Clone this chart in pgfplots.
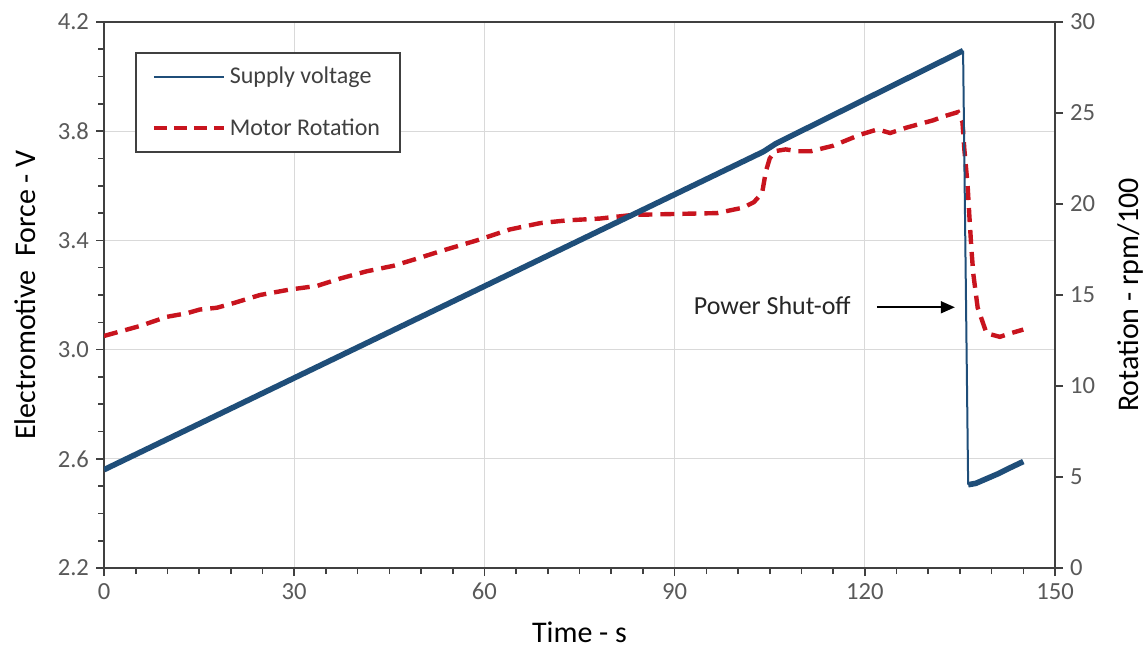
\documentclass[border=0pt]{standalone}
\usepackage{pgfplots}
\pgfplotsset{compat=1.18}
\usetikzlibrary{arrows.meta}
\usepackage{fontspec}
\setmainfont{Carlito}
\definecolor{volt}{HTML}{1F4E79}
\definecolor{rotc}{HTML}{C8141E}
\definecolor{axgray}{HTML}{404040}
\definecolor{tickgray}{HTML}{595959}
\definecolor{gridgray}{HTML}{D9D9D9}

\pgfplotsset{
  base/.style={
    scale only axis, width=475.5pt, height=273pt,
    xmin=0, xmax=150,
    /pgf/number format/assume math mode=true,
    tick label style={font=\fontsize{12.3}{14}\selectfont, text=tickgray},
    label style={font=\fontsize{15}{18}\selectfont, text=black},
    axis line style={axgray, line width=0.8pt},
    every tick/.style={axgray, line width=0.8pt},
    tick align=outside,
    major tick length=4pt, minor tick length=3pt,
  }
}

\begin{document}
\begin{tikzpicture}
% frame, grid, left axis and x axis
\begin{axis}[base,
  ymin=2.2, ymax=4.2,
  ytick={2.2,2.6,3.0,3.4,3.8,4.2}, minor y tick num=3,
  xtick={0,30,60,90,120,150}, minor x tick num=5,
  xtick pos=left, ytick pos=left,
  grid=major, major grid style={gridgray, line width=0.6pt},
  yticklabel style={/pgf/number format/.cd, fixed, fixed zerofill, precision=1},
  xlabel={Time - s}, ylabel={Electromotive\ \ Force - V},
  xlabel style={at={(axis description cs:0.5,-0.117)}, anchor=center},
  ylabel style={at={(axis description cs:-0.083,0.5)}, anchor=center},
]
\addplot[draw=none, forget plot] coordinates {(0,2.2) (150,4.2)};
\end{axis}

% right axis: motor rotation
\begin{axis}[base,
  ymin=0, ymax=30, ytick={0,5,10,15,20,25,30},
  axis y line*=right, axis x line=none,
  ylabel={Rotation - rpm/100},
  ylabel style={at={(axis description cs:1.079,0.5)}, anchor=center},
]
\addplot[rotc, line width=2.2pt, dash pattern=on 7pt off 4pt, forget plot] coordinates {
(0,12.75) (5.7,13.3) (9.9,13.8) (13.1,14.0) (15.1,14.2) (17.8,14.3) (20.4,14.55)
(24.6,15.0) (29.3,15.3) (33.6,15.5) (37.2,15.9) (41.4,16.3) (45.6,16.6) (49.4,17.0)
(53,17.4) (58.8,18.0) (64,18.6) (68.8,18.95) (73,19.1) (78.2,19.2) (83.4,19.4)
(89.7,19.45) (96.7,19.5) (100.8,19.8) (102.5,20.1) (103.8,20.6) (104.4,21.8)
(105.0,22.5) (105.8,22.9) (107.5,23.0) (109.5,22.9) (111.5,22.9) (115,23.2)
(119.2,23.8) (122,24.1) (124,23.9) (126.6,24.2) (130.8,24.6) (132.3,24.8)
(134.7,25.05) (135.4,24.5) (135.7,23.0) (136.2,21.1) (136.5,19.3) (136.8,17.6)
(137.1,16.2) (137.8,14.3) (139.2,12.9) (141.3,12.7) (143,12.9) (145,13.1)
};
\end{axis}

% supply voltage, legend and annotation
\begin{axis}[base,
  ymin=2.2, ymax=4.2, hide axis,
  legend style={at={(0.0326,0.945)}, anchor=north west, draw=axgray, line width=0.8pt,
    fill=white, font=\fontsize{12}{14}\selectfont, text=axgray,
    inner xsep=8pt, inner ysep=5pt, row sep=12pt},
  legend cell align=left,
  legend image code/.code={\draw[#1] (0pt,0pt) -- (35pt,0pt);},
]
\addplot[volt, line width=2.8pt, line join=round, forget plot] coordinates {
(0,2.56) (104,3.725) (106,3.755) (135.5,4.095)
};
\addplot[volt, line width=1pt, forget plot] coordinates {(135.5,4.095) (136.3,2.505)};
\addplot[volt, line width=2.8pt, line join=round, forget plot] coordinates {
(136.3,2.505) (137.5,2.51) (139,2.525) (141,2.545) (143,2.568) (145,2.59)
};
\addlegendimage{volt, line width=1pt}
\addlegendentry{Supply voltage}
\addlegendimage{rotc, line width=2pt, dash pattern=on 6.5pt off 3.5pt}
\addlegendentry{Motor Rotation}
\node[font=\fontsize{13}{15}\selectfont, text=black!85] at (axis cs:105.4,3.16) {Power Shut-off};
\draw[black, line width=0.8pt, -{Triangle[length=7pt,width=6pt]}] (axis cs:121.9,3.155) -- (axis cs:134.2,3.155);
\end{axis}
\pgfresetboundingbox
\path (-52pt,-40pt) rectangle (520pt,284pt);
\end{tikzpicture}
\end{document}
